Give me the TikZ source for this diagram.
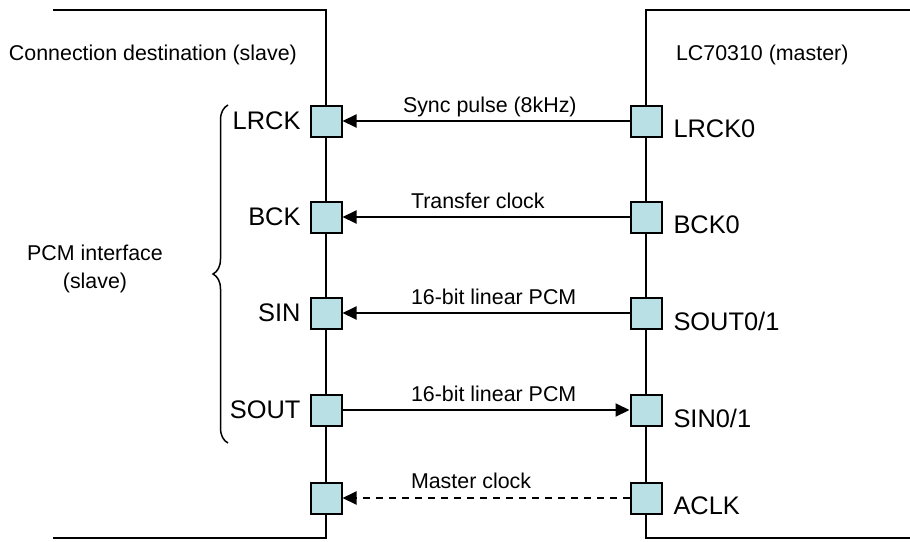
\documentclass[tikz,border=0pt]{standalone}
\usepackage{fontspec}
\setmainfont{Liberation Sans}
\usetikzlibrary{arrows.meta,positioning,decorations.pathreplacing}
\definecolor{padcyan}{RGB}{185,224,228}

\begin{document}
\begin{tikzpicture}[x=0.5pt,y=-0.5pt,line width=1pt,
padbox/.style={draw,fill=padcyan,minimum size=15.5pt,inner sep=0pt},
padlabel/.style={inner sep=0pt,font=\fontsize{12.7}{15}\selectfont},
note/.style={inner sep=0pt,font=\fontsize{10.7}{14}\selectfont},
arr/.style={-{Triangle[length=7pt,width=6.5pt]}}]
\useasboundingbox (0,0) rectangle (910,541);

% chip outlines
\draw (53,10)--(326,10)--(326,538)--(53,538);
\draw (910,10)--(646,10)--(646,538)--(910,538);

\node[note,anchor=base west] at (8,60) {Connection destination (slave)};
\node[note,anchor=base west] at (675,60) {LC70310 (master)};

% slave side
\node[padbox] (lrckS) at (326,121) {};
\node[padbox] (bckS) at (326,217) {};
\node[padbox] (sinS) at (326,313) {};
\node[padbox] (soutS) at (326,410) {};
\node[padbox] (aclkS) at (326,498) {};
\node[padlabel,left=4pt of lrckS] {LRCK};
\node[padlabel,left=4pt of bckS] {BCK};
\node[padlabel,left=4pt of sinS] {SIN};
\node[padlabel,left=4pt of soutS] {SOUT};

% master side
\node[padbox] (lrckM) at (646,121) {};
\node[padbox] (bckM) at (646,217) {};
\node[padbox] (soutM) at (646,313) {};
\node[padbox] (sinM) at (646,410) {};
\node[padbox] (aclkM) at (646,498) {};
\node[padlabel,right=5pt of lrckM,yshift=-4pt] {LRCK0};
\node[padlabel,right=5pt of bckM,yshift=-4pt] {BCK0};
\node[padlabel,right=5pt of soutM,yshift=-4pt] {SOUT0/1};
\node[padlabel,right=5pt of sinM,yshift=-4pt] {SIN0/1};
\node[padlabel,right=5pt of aclkM,yshift=-4pt] {ACLK};

\draw[arr] (lrckM)--(lrckS);
\draw[arr] (bckM)--(bckS);
\draw[arr] (soutM)--(sinS);
\draw[arr] (soutS)--(sinM);
\draw[arr,dash pattern=on 3.5pt off 3pt] (aclkM)--(aclkS);

\node[note,anchor=base west] at (402,112) {Sync pulse (8kHz)};
\node[note,anchor=base west] at (410,208) {Transfer clock};
\node[note,anchor=base west] at (410,304) {16-bit linear PCM};
\node[note,anchor=base west] at (410,401) {16-bit linear PCM};
\node[note,anchor=base west] at (410,488) {Master clock};

% interface brace
\draw[line width=0.75pt,decorate,decoration={brace,amplitude=7.5pt}] (228,443)--(228,105);
\node[note,align=center] (pcm) at (95,269) {PCM interface\\(slave)};

\end{tikzpicture}
\end{document}
